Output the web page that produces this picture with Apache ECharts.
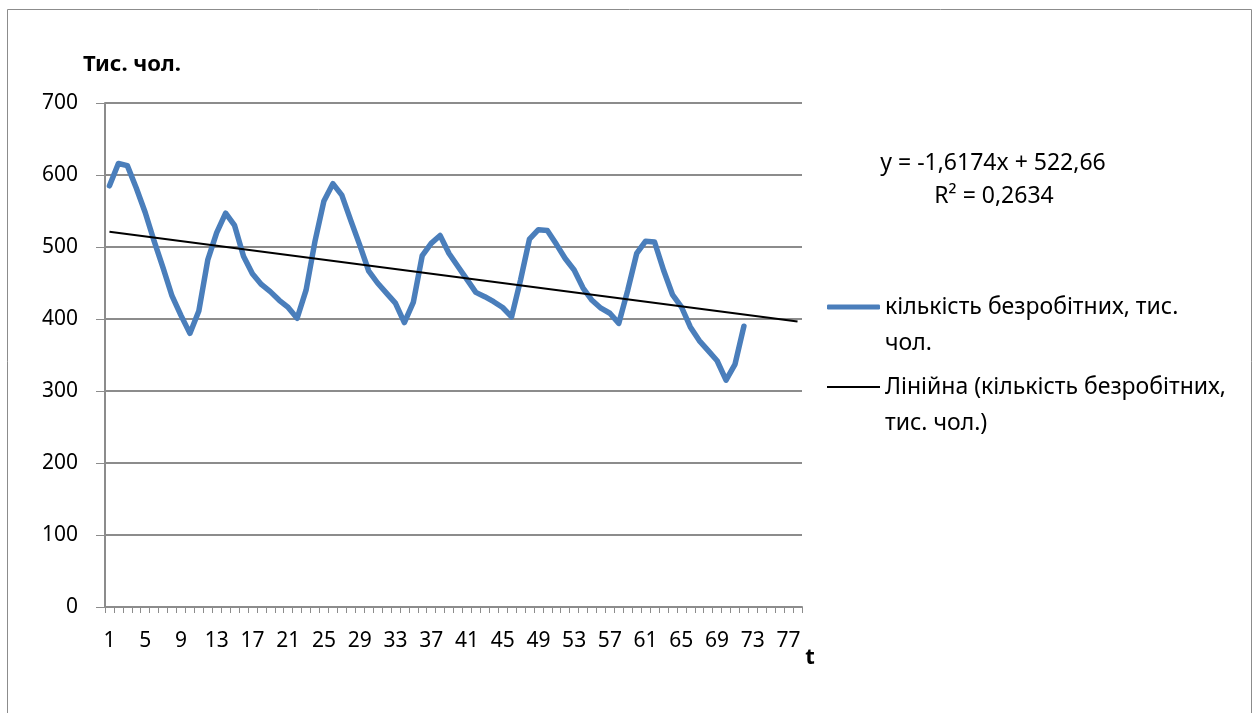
<!DOCTYPE html>
<html>
<head>
<meta charset="utf-8">
<script src="https://cdn.jsdelivr.net/npm/echarts@6/dist/echarts.min.js"></script>
<style>
html,body{margin:0;padding:0;background:#fff;}
#chart{width:1258px;height:713px;}
</style>
</head>
<body>
<div id="chart"></div>
<script>
// Categories t = 1..78
const categories = ['1','2','3','4','5','6','7','8','9','10','11','12','13','14','15','16','17','18','19','20','21','22','23','24','25','26','27','28','29','30','31','32','33','34','35','36','37','38','39','40','41','42','43','44','45','46','47','48','49','50','51','52','53','54','55','56','57','58','59','60','61','62','63','64','65','66','67','68','69','70','71','72','73','74','75','76','77','78'];

// кількість безробітних, тис. чол. (72 observations)
const unemployed = [
  585, 616, 613, 582, 548, 508, 471, 432, 405, 380,
  411, 482, 520, 547, 530, 487, 463, 448, 438, 426,
  416, 401, 440, 508, 564, 588, 572, 537, 503, 467,
  450, 436, 422, 395, 423, 488, 505, 516, 491, 473,
  455, 437, 431, 424, 416, 403, 454, 511, 524, 523,
  504, 484, 468, 443, 426, 415, 408, 394, 440, 491,
  508, 507, 468, 434, 417, 389, 370, 356, 342, 315,
  337, 390
];

// Linear trend end points (y = -1,6174x + 522,66)
const trendCats = ['1', '78'];
const trendVals = [521.04, 396.5];

const yTicks = [0, 100, 200, 300, 400, 500, 600, 700];

const seriesName = 'кількість безробітних, тис.\nчол.';
const trendName = 'Лінійна (кількість безробітних,\nтис. чол.)';

const FONT = '"Noto Sans", "Open Sans", sans-serif';
const GRID_COLOR = '#8c8c8c';

const chart = echarts.init(document.getElementById('chart'), null, {renderer: 'canvas'});

const legendText = {fontSize: 23, fontFamily: FONT, color: '#000', lineHeight: 36};

const option = {
  animation: false,
  backgroundColor: '#ffffff',
  textStyle: {fontFamily: FONT, color: '#000'},
  grid: {left: 105, right: 456, top: 103, bottom: 106, containLabel: false},
  xAxis: {
    type: 'category',
    data: categories,
    boundaryGap: true,
    axisLine: {show: true, lineStyle: {color: GRID_COLOR, width: 2}},
    axisTick: {show: true, interval: 0, length: 6, lineStyle: {color: GRID_COLOR, width: 1}},
    axisLabel: {interval: 3, color: '#000', fontSize: 21, fontFamily: FONT, margin: 24},
    splitLine: {show: false}
  },
  yAxis: {
    type: 'value',
    min: yTicks[0],
    max: yTicks[yTicks.length - 1],
    interval: 100,
    axisLine: {show: true, lineStyle: {color: GRID_COLOR, width: 2}},
    axisTick: {show: true, length: 9, lineStyle: {color: GRID_COLOR, width: 1}},
    axisLabel: {color: '#000', fontSize: 21, fontFamily: FONT, margin: 27},
    splitLine: {show: true, lineStyle: {color: GRID_COLOR, width: 2}}
  },
  legend: [
    {
      data: [{name: seriesName, icon: 'roundRect'}],
      orient: 'vertical',
      left: 827,
      top: 253,
      padding: 0,
      itemWidth: 53,
      itemHeight: 5,
      formatter: name => '\n' + name,
      textStyle: legendText
    },
    {
      data: [{name: trendName, icon: 'rect'}],
      orient: 'vertical',
      left: 827,
      top: 333,
      padding: 0,
      itemWidth: 53,
      itemHeight: 2,
      formatter: name => '\n' + name,
      textStyle: legendText
    }
  ],
  graphic: [
    {type: 'rect', shape: {x: 7.5, y: 9.5, width: 1244, height: 720}, style: {fill: 'none', stroke: '#8c8c8c', lineWidth: 1}, silent: true},
    {type: 'text', x: 83, y: 65, style: {text: 'Тис. чол.', font: 'bold 22px ' + FONT, fill: '#000', align: 'left', verticalAlign: 'middle'}},
    {type: 'text', x: 810, y: 658, style: {text: 't', font: 'bold 22px ' + FONT, fill: '#000', align: 'center', verticalAlign: 'middle'}},
    {type: 'text', x: 993, y: 163, style: {text: 'y = -1,6174x + 522,66', font: '23px ' + FONT, fill: '#000', align: 'center', verticalAlign: 'middle'}},
    {type: 'text', x: 994, y: 196, style: {text: 'R² = 0,2634', font: '23px ' + FONT, fill: '#000', align: 'center', verticalAlign: 'middle'}}
  ],
  series: [
    {
      name: seriesName,
      type: 'line',
      data: unemployed,
      showSymbol: false,
      symbol: 'none',
      lineStyle: {color: '#4a7ebb', width: 5.5, join: 'round', cap: 'round'},
      itemStyle: {color: '#4a7ebb'},
      z: 3
    },
    {
      name: trendName,
      type: 'line',
      data: trendCats.map((c, i) => [c, trendVals[i]]),
      showSymbol: false,
      symbol: 'none',
      lineStyle: {color: '#000', width: 2},
      itemStyle: {color: '#000'},
      z: 4
    }
  ]
};

chart.setOption(option);
</script>
</body>
</html>
